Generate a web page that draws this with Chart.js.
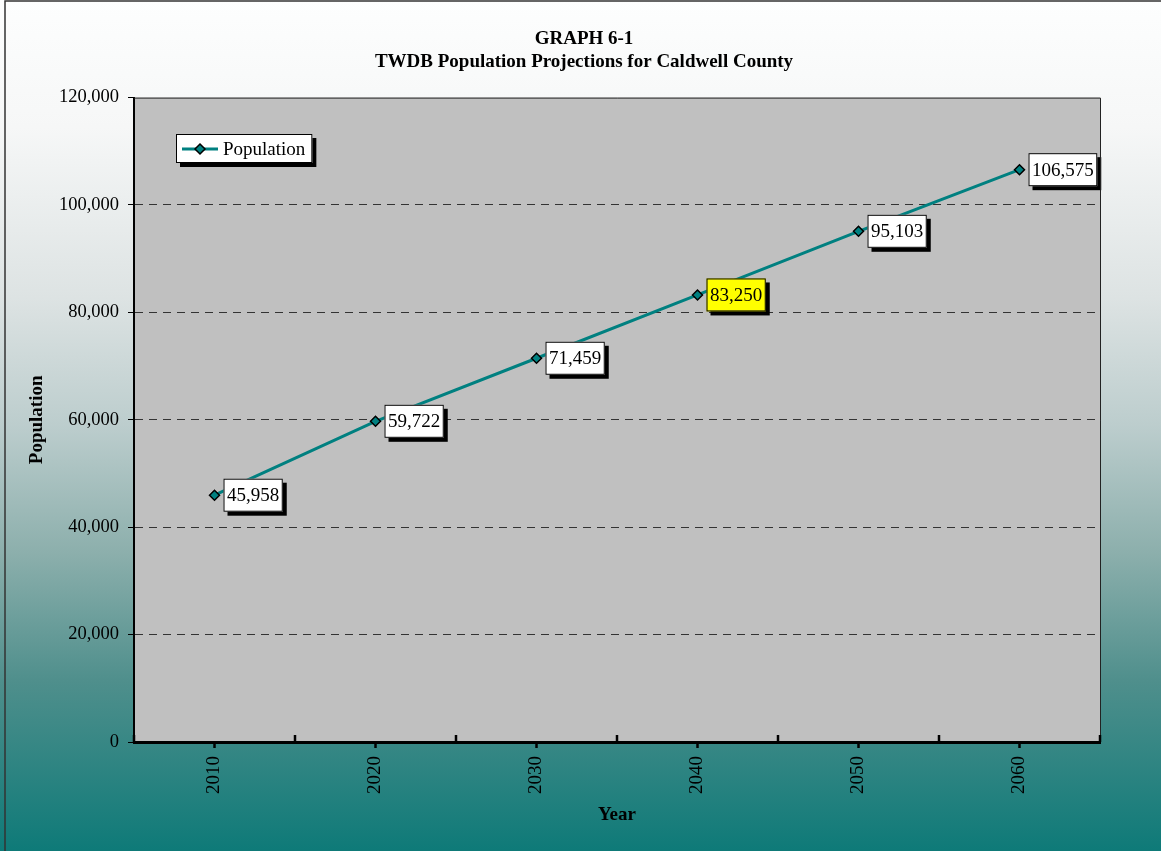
<!DOCTYPE html>
<html lang="en">
<head>
    <meta charset="UTF-8">
    <title>TWDB Population Projections for Caldwell County</title>
    <script src="https://cdn.jsdelivr.net/npm/chart.js"></script>
    <style>
        body { margin: 0; background: #fff; }
        canvas { display: block; }
    </style>
</head>
<body>
    <canvas id="chart" width="1161" height="851"></canvas>

    <script>
        // donnees
        const years = ['2010', '2020', '2030', '2040', '2050', '2060'];
        const population = [45958, 59722, 71459, 83250, 95103, 106575];
        const yTicks = [0, 20000, 40000, 60000, 80000, 100000, 120000];
        const highlightYear = '2040';

        const serif = "'Liberation Serif', 'Times New Roman', serif";
        const teal = '#008080';

        function fmt(v) {
            return v.toLocaleString('en-US');
        }

        // petite boite blanche avec ombre noire (etiquettes + legende)
        function shadowBox(ctx, x, y, w, h, fill) {
            ctx.fillStyle = '#000';
            ctx.fillRect(x + 4, y + 4, w, h);
            ctx.fillStyle = fill;
            ctx.fillRect(x, y, w, h);
            ctx.strokeStyle = '#000';
            ctx.lineWidth = 1;
            ctx.strokeRect(x + 0.5, y + 0.5, w - 1, h - 1);
        }

        function diamond(ctx, x, y, r) {
            ctx.beginPath();
            ctx.moveTo(x, y - r);
            ctx.lineTo(x + r, y);
            ctx.lineTo(x, y + r);
            ctx.lineTo(x - r, y);
            ctx.closePath();
            ctx.fillStyle = teal;
            ctx.fill();
            ctx.strokeStyle = '#000';
            ctx.lineWidth = 1.5;
            ctx.stroke();
        }

        const decor = {
            id: 'decor',
            beforeDraw(chart) {
                const ctx = chart.ctx;
                const a = chart.chartArea;
                const W = chart.width, H = chart.height;
                const g = ctx.createLinearGradient(0, 0, 0, H);
                g.addColorStop(0, '#fdfefe');
                g.addColorStop(0.15, '#f6f7f7');
                g.addColorStop(0.35, '#dde3e3');
                g.addColorStop(0.5, '#bccdcd');
                g.addColorStop(0.65, '#8cafac');
                g.addColorStop(0.8, '#4f8f8c');
                g.addColorStop(1, '#0e7a78');
                ctx.save();
                ctx.fillStyle = g;
                ctx.fillRect(0, 0, W, H);
                ctx.strokeStyle = '#333';
                ctx.lineWidth = 1.5;
                ctx.strokeRect(5, 1, W, H + 5);
                ctx.fillStyle = '#c0c0c0';
                ctx.fillRect(a.left, a.top, a.right - a.left, a.bottom - a.top);
                ctx.restore();
            },
            afterDatasetsDraw(chart) {
                const ctx = chart.ctx;
                const meta = chart.getDatasetMeta(0);
                ctx.save();
                ctx.font = '19px ' + serif;
                ctx.textBaseline = 'middle';
                meta.data.forEach((pt, i) => {
                    const txt = fmt(population[i]);
                    const w = ctx.measureText(txt).width + 7;
                    const h = 33;
                    const x = pt.x + 9;
                    const y = pt.y - h / 2;
                    shadowBox(ctx, x, y, w, h, years[i] === highlightYear ? '#ffff00' : '#ffffff');
                    ctx.fillStyle = '#000';
                    ctx.fillText(txt, x + 3.5, pt.y + 1);
                });
                ctx.restore();
            },
            afterDraw(chart) {
                const ctx = chart.ctx;
                const a = chart.chartArea;
                const xs = chart.scales.x;
                ctx.save();
                // cadre haut et droite de la zone de trace
                ctx.strokeStyle = '#222';
                ctx.lineWidth = 1;
                ctx.beginPath();
                ctx.moveTo(a.left, a.top + 0.5);
                ctx.lineTo(a.right + 0.5, a.top + 0.5);
                ctx.lineTo(a.right + 0.5, a.bottom);
                ctx.stroke();
                // graduations interieures entre les categories
                const step = xs.getPixelForValue(1) - xs.getPixelForValue(0);
                ctx.strokeStyle = '#000';
                ctx.lineWidth = 2.5;
                ctx.beginPath();
                for (let i = 0; i <= years.length; i++) {
                    const x = Math.round(xs.getPixelForValue(i) - step / 2);
                    ctx.moveTo(x, a.bottom);
                    ctx.lineTo(x, a.bottom - 7);
                }
                ctx.stroke();
                // legende
                const lx = 176, ly = 134;
                ctx.font = '19px ' + serif;
                const label = chart.data.datasets[0].label;
                const lw = 54 + ctx.measureText(label).width;
                shadowBox(ctx, lx, ly, lw, 29, '#ffffff');
                ctx.strokeStyle = teal;
                ctx.lineWidth = 3;
                ctx.beginPath();
                ctx.moveTo(lx + 6, ly + 15);
                ctx.lineTo(lx + 42, ly + 15);
                ctx.stroke();
                diamond(ctx, lx + 24, ly + 15, 5);
                ctx.fillStyle = '#000';
                ctx.textBaseline = 'middle';
                ctx.fillText(label, lx + 47, ly + 16);
                ctx.restore();
            }
        };

        const ctx = document.getElementById('chart').getContext('2d');
        const chart = new Chart(ctx, {
            type: 'line',
            data: {
                labels: years,
                datasets: [{
                    label: 'Population',
                    data: population,
                    borderColor: teal,
                    borderWidth: 3,
                    pointStyle: 'rectRot',
                    pointRadius: 5,
                    pointBackgroundColor: teal,
                    pointBorderColor: '#000',
                    pointBorderWidth: 1.5,
                    tension: 0
                }]
            },
            options: {
                responsive: false,
                animation: false,
                // petite marge a gauche pour centrer le titre comme l'original
                layout: { padding: { left: 7, right: 0, top: 0, bottom: 0 } },
                plugins: {
                    legend: { display: false },
                    tooltip: { enabled: false },
                    title: {
                        display: true,
                        text: ['GRAPH 6-1', 'TWDB Population Projections for Caldwell County'],
                        color: '#000',
                        font: { family: serif, size: 19, weight: 'bold', lineHeight: 1.2 },
                        padding: { top: 28, bottom: 24 }
                    }
                },
                scales: {
                    x: {
                        type: 'category',
                        offset: true,
                        afterFit(scale) { scale.height = 109; },
                        grid: {
                            offset: false,
                            drawOnChartArea: false,
                            tickLength: 6,
                            tickColor: '#000',
                            tickWidth: 2.5
                        },
                        border: { display: true, color: '#000', width: 3 },
                        ticks: {
                            color: '#000',
                            font: { family: serif, size: 19 },
                            minRotation: 90,
                            maxRotation: 90,
                            padding: 8
                        },
                        title: {
                            display: true,
                            text: 'Year',
                            color: '#000',
                            font: { family: serif, size: 19, weight: 'bold' },
                            padding: { top: 0, bottom: 25 }
                        }
                    },
                    y: {
                        min: 0,
                        max: 120000,
                        afterFit(scale) { scale.width = 127; },
                        afterBuildTicks(scale) {
                            scale.ticks = yTicks.map(v => ({ value: v }));
                        },
                        grid: {
                            color: c => (c.tick && c.tick.value > 0 && c.tick.value < 120000) ? '#333' : 'rgba(0,0,0,0)',
                            lineWidth: 1,
                            tickLength: 6,
                            tickColor: '#000',
                            tickWidth: 1
                        },
                        border: { display: true, color: '#000', width: 2, dash: [8, 6] },
                        ticks: {
                            color: '#000',
                            font: { family: serif, size: 18.5 },
                            padding: 9,
                            callback: v => fmt(v)
                        },
                        title: {
                            display: true,
                            text: 'Population',
                            color: '#000',
                            font: { family: serif, size: 19, weight: 'bold' },
                            padding: { top: 19, bottom: 0 }
                        }
                    },
                    // axe vide a droite : reserve la marge de droite
                    yRight: {
                        position: 'right',
                        display: true,
                        afterFit(scale) { scale.width = 61; },
                        grid: { display: false },
                        border: { display: false },
                        ticks: { display: false }
                    }
                }
            },
            plugins: [decor]
        });
    </script>
</body>
</html>
